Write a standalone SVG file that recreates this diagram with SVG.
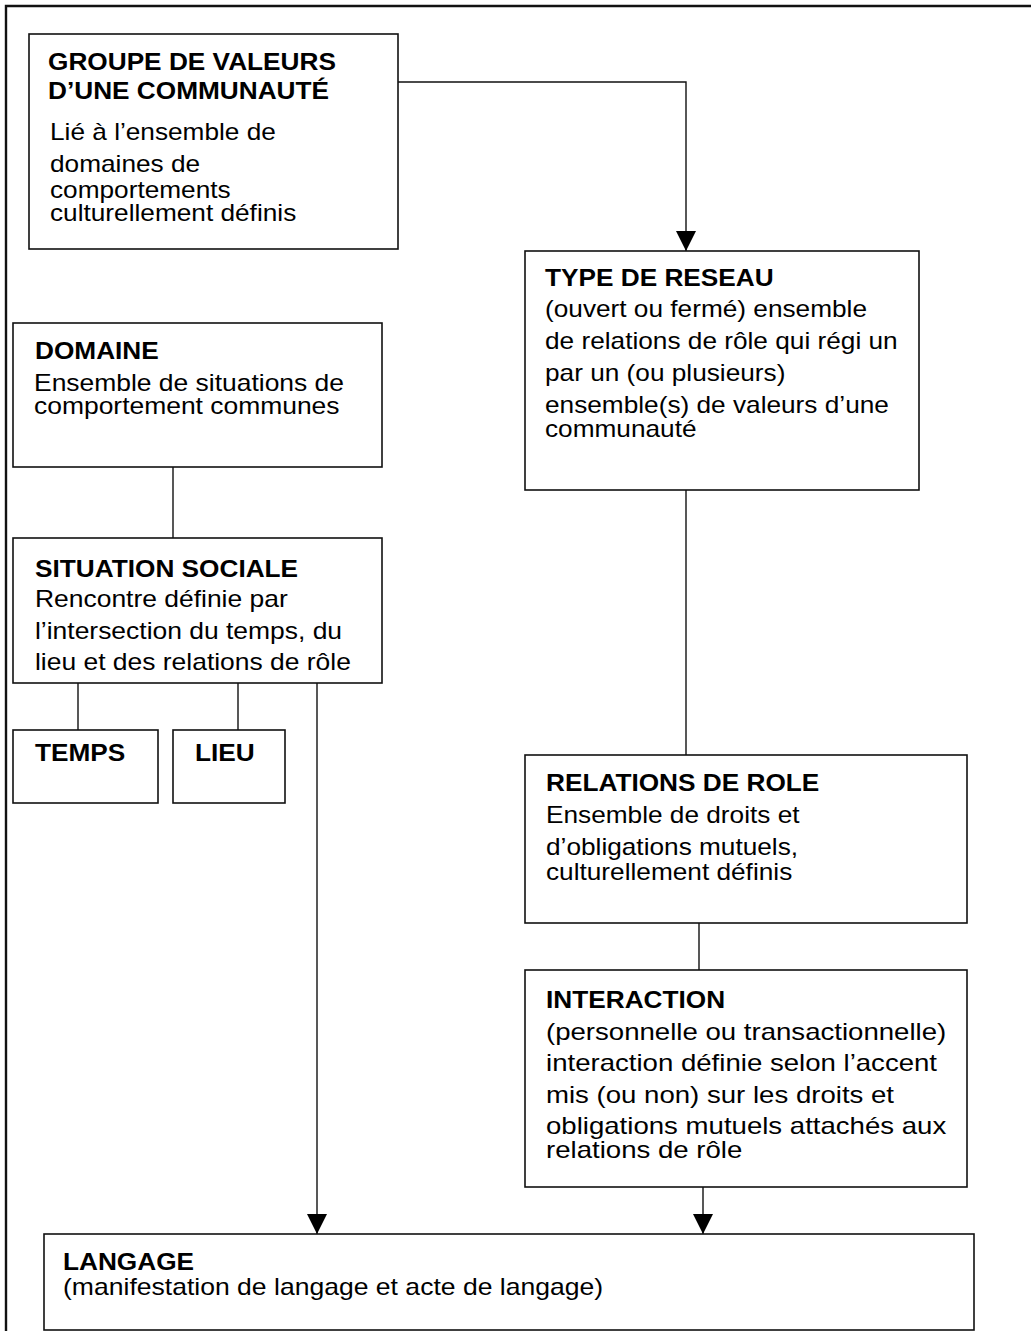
<svg xmlns="http://www.w3.org/2000/svg" width="1031" height="1331" viewBox="0 0 1031 1331">
<style>
  .box { fill: #ffffff; stroke: #111111; stroke-width: 1.6; }
  .frame { fill: none; stroke: #111111; stroke-width: 2.4; }
  .conn { fill: none; stroke: #111111; stroke-width: 1.4; }
  .t { font-family: "Liberation Sans", Arial, Helvetica, sans-serif; font-weight: bold; font-size: 23px; fill: #000; }
  .b { font-family: "Liberation Sans", Arial, Helvetica, sans-serif; font-size: 23px; fill: #000; }
</style>
<defs>
  <marker id="arrow" viewBox="0 0 20 20" refX="20" refY="10" markerWidth="20" markerHeight="20" markerUnits="userSpaceOnUse" orient="auto">
    <path d="M0,0 L20,10 L0,20 z" fill="#000"/>
  </marker>
</defs>
<rect x="0" y="0" width="1031" height="1331" fill="#ffffff"/>
<path class="frame" d="M6,1335 V6 H1035"/>

<g id="connectors">
  <path class="conn" d="M398,82 H686 V251" marker-end="url(#arrow)"/>
  <path class="conn" d="M686,490 V755"/>
  <path class="conn" d="M699,923 V970"/>
  <path class="conn" d="M703,1187 V1234" marker-end="url(#arrow)"/>
  <path class="conn" d="M173,467 V538"/>
  <path class="conn" d="M78,683 V730"/>
  <path class="conn" d="M238,683 V730"/>
  <path class="conn" d="M317,683 V1234" marker-end="url(#arrow)"/>
</g>

<g id="groupe">
  <rect class="box" x="29" y="34" width="369" height="215"/>
  <text class="t" transform="translate(48 0) scale(1.14 1)"><tspan x="0" y="70">GROUPE DE VALEURS</tspan><tspan x="0" y="99">D’UNE COMMUNAUTÉ</tspan></text>
  <text class="b" transform="translate(50 0) scale(1.14 1)"><tspan x="0" y="140">Lié à l’ensemble de</tspan><tspan x="0" y="172">domaines de</tspan><tspan x="0" y="198">comportements</tspan><tspan x="0" y="221">culturellement définis</tspan></text>
</g>

<g id="type-reseau">
  <rect class="box" x="525" y="251" width="394" height="239"/>
  <text class="t" transform="translate(545 0) scale(1.14 1)"><tspan x="0" y="286">TYPE DE RESEAU</tspan></text>
  <text class="b" transform="translate(545 0) scale(1.14 1)"><tspan x="0" y="317">(ouvert ou fermé) ensemble</tspan><tspan x="0" y="349">de relations de rôle qui régi un</tspan><tspan x="0" y="381">par un (ou plusieurs)</tspan><tspan x="0" y="413">ensemble(s) de valeurs d’une</tspan><tspan x="0" y="437">communauté</tspan></text>
</g>

<g id="domaine">
  <rect class="box" x="13" y="323" width="369" height="144"/>
  <text class="t" transform="translate(35 0) scale(1.14 1)"><tspan x="0" y="359">DOMAINE</tspan></text>
  <text class="b" transform="translate(34 0) scale(1.15 1)"><tspan x="0" y="391">Ensemble de situations de</tspan><tspan x="0" y="414">comportement communes</tspan></text>
</g>

<g id="situation">
  <rect class="box" x="13" y="538" width="369" height="145"/>
  <text class="t" transform="translate(35 0) scale(1.14 1)"><tspan x="0" y="577">SITUATION SOCIALE</tspan></text>
  <text class="b" transform="translate(35 0) scale(1.15 1)"><tspan x="0" y="607">Rencontre définie par</tspan><tspan x="0" y="639">l’intersection du temps, du</tspan><tspan x="0" y="670">lieu et des relations de rôle</tspan></text>
</g>

<g id="temps">
  <rect class="box" x="13" y="730" width="145" height="73"/>
  <text class="t" transform="translate(35 0) scale(1.14 1)"><tspan x="0" y="761">TEMPS</tspan></text>
</g>

<g id="lieu">
  <rect class="box" x="173" y="730" width="112" height="73"/>
  <text class="t" transform="translate(195 0) scale(1.14 1)"><tspan x="0" y="761">LIEU</tspan></text>
</g>

<g id="relations">
  <rect class="box" x="525" y="755" width="442" height="168"/>
  <text class="t" transform="translate(546 0) scale(1.14 1)"><tspan x="0" y="791">RELATIONS DE ROLE</tspan></text>
  <text class="b" transform="translate(546 0) scale(1.14 1)"><tspan x="0" y="823">Ensemble de droits et</tspan><tspan x="0" y="855">d’obligations mutuels,</tspan><tspan x="0" y="880">culturellement définis</tspan></text>
</g>

<g id="interaction">
  <rect class="box" x="525" y="970" width="442" height="217"/>
  <text class="t" transform="translate(546 0) scale(1.14 1)"><tspan x="0" y="1008">INTERACTION</tspan></text>
  <text class="b" transform="translate(546 0) scale(1.2 1)"><tspan x="0" y="1040">(personnelle ou transactionnelle)</tspan><tspan x="0" y="1071">interaction définie selon l’accent</tspan><tspan x="0" y="1103">mis (ou non) sur les droits et</tspan><tspan x="0" y="1134">obligations mutuels attachés aux</tspan><tspan x="0" y="1158">relations de rôle</tspan></text>
</g>

<g id="langage">
  <rect class="box" x="44" y="1234" width="930" height="96"/>
  <text class="t" transform="translate(63 0) scale(1.14 1)"><tspan x="0" y="1270">LANGAGE</tspan></text>
  <text class="b" transform="translate(63 0) scale(1.155 1)"><tspan x="0" y="1295">(manifestation de langage et acte de langage)</tspan></text>
</g>
</svg>
